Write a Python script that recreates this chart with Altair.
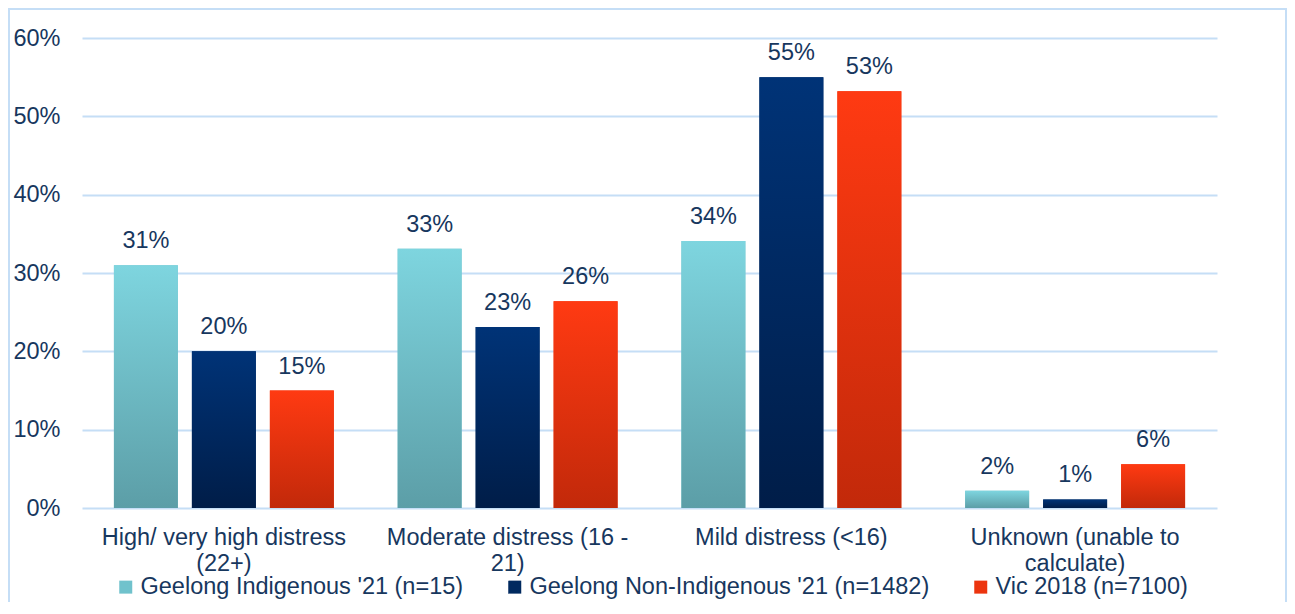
import json
import altair as alt
import pandas as pd

categories = [
    "High/ very high distress (22+)",
    "Moderate distress (16 - 21)",
    "Mild distress (<16)",
    "Unknown (unable to calculate)",
]
category_lines = [
    ["High/ very high distress", "(22+)"],
    ["Moderate distress (16 -", "21)"],
    ["Mild distress (<16)"],
    ["Unknown (unable to", "calculate)"],
]
series = [
    "Geelong Indigenous '21 (n=15)",
    "Geelong Non-Indigenous '21 (n=1482)",
    "Vic 2018 (n=7100)",
]
indigenous_21 = [0.310, 0.331, 0.341, 0.022]
non_indigenous_21 = [0.200, 0.231, 0.550, 0.011]
vic_2018 = [0.150, 0.264, 0.532, 0.056]

rows = []
for i, cat in enumerate(categories):
    for j, vals in enumerate([indigenous_21, non_indigenous_21, vic_2018]):
        rows.append({"category": cat, "series": series[j], "idx": j, "value": vals[i]})
df = pd.DataFrame(rows)

TEXT = "#17375e"
GRID = "#c5def6"
FONT = "Liberation Sans"


def grad(top, bottom):
    return {
        "gradient": "linear",
        "x1": 0, "y1": 0, "x2": 0, "y2": 1,
        "stops": [{"offset": 0, "color": top}, {"offset": 1, "color": bottom}],
    }


grads = [grad("#7ed5df", "#5c9ea7"), grad("#003377", "#001d48"), grad("#ff3a12", "#c2290a")]
legend_colors = ["#70c2cc", "#00295f", "#ec340e"]

expr = json.dumps(category_lines[-1])
for cat, lines in reversed(list(zip(categories[:-1], category_lines[:-1]))):
    expr = f"datum.label === {json.dumps(cat)} ? {json.dumps(lines)} : ({expr})"
label_expr = expr

x_enc = alt.X(
    "category:N",
    sort=categories,
    scale=alt.Scale(paddingInner=0.225, paddingOuter=0.1125),
    axis=alt.Axis(
        title=None, labelAngle=0, domain=False, ticks=False, labelPadding=17,
        labelFontSize=23.5, labelLineHeight=26, labelColor=TEXT, labelLimit=400,
        labelOverlap=False, labelExpr=label_expr, labelBaseline="top",
    ),
)
xoff_enc = alt.XOffset(
    "series:N", sort=series,
    scale=alt.Scale(domain=series, paddingInner=0.18, paddingOuter=0),
)
y_enc = alt.Y(
    "value:Q",
    scale=alt.Scale(domain=[0, 0.6], nice=False),
    axis=alt.Axis(
        title=None, values=[0, 0.1, 0.2, 0.3, 0.4, 0.5, 0.6], format=".0%",
        domain=False, ticks=False, labelPadding=22, labelFontSize=23.5,
        labelColor=TEXT, grid=True, gridColor=GRID, gridWidth=2,
    ),
)

base = alt.Chart(df)

legend_bars = base.mark_bar().encode(
    x=x_enc, xOffset=xoff_enc, y=y_enc,
    color=alt.Color(
        "series:N", sort=series,
        scale=alt.Scale(domain=series, range=legend_colors),
        legend=alt.Legend(
            title=None, orient="none", direction="horizontal", legendX=32, legendY=537,
            symbolType="square", symbolSize=169, symbolStrokeWidth=0, labelFontSize=23.5,
            labelColor=TEXT, labelOffset=3, columnPadding=39, padding=0, labelLimit=600,
        ),
    ),
)

gradient_bars = base.mark_bar().encode(
    x=x_enc, xOffset=xoff_enc, y=y_enc,
    fill=alt.value(
        grads[2],
        condition=[
            {"test": "datum.idx === 0", "value": grads[0]},
            {"test": "datum.idx === 1", "value": grads[1]},
        ],
    ),
)

labels = base.mark_text(baseline="alphabetic", dy=-17, fontSize=23.5, color=TEXT).encode(
    x=x_enc, xOffset=xoff_enc, y=y_enc,
    text=alt.Text("value:Q", format=".0%"),
)

frame = alt.Chart(pd.DataFrame({"a": [0]})).mark_rect(
    fillOpacity=0, stroke=GRID, strokeWidth=2
).encode(
    x=alt.value(-73), x2=alt.value(1204), y=alt.value(-29), y2=alt.value(620)
)

chart = alt.layer(legend_bars, gradient_bars, labels, frame).properties(
    width=1135,
    height=470,
    autosize=alt.AutoSizeParams(type="none"),
    padding={"left": 74, "top": 30, "right": 70, "bottom": 94},
).configure(font=FONT).configure_view(strokeOpacity=0)

chart.save("out.html", embed_options={"renderer": "svg", "actions": False})
